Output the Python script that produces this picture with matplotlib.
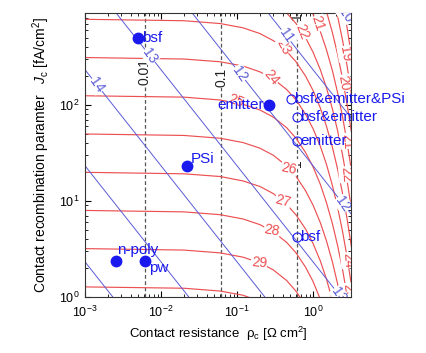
import matplotlib
matplotlib.use('Agg')
import matplotlib.pyplot as plt

plt.rcParams['font.family'] = ['Liberation Sans', 'DejaVu Sans']
plt.rcParams['mathtext.fontset'] = 'custom'
plt.rcParams['mathtext.rm'] = 'Liberation Sans'
plt.rcParams['mathtext.it'] = 'Liberation Sans:italic'

# --- efficiency contours (red): J0c read along a common rho_c grid ---
rho_grid = [0.001, 0.02, 0.06, 0.12, 0.2, 0.3, 0.45, 0.6, 0.8, 1.0,
            1.25, 1.5, 1.8, 2.1, 2.45, 2.8, 3.2]
eff_levels = [30, 29, 28, 27, 26, 25, 24, 23, 22, 21, 20, 19, 18]
eff_J = [
    [1.27, 1.23, 1.15, 1.04, 0.90, 0.76, 0.59, 0.46, 0.33, 0.23, 0.15, 0.099, 0.059, 0.035, 0.020, 0.011, 0.0054],
    [3.18, 3.07, 2.87, 2.59, 2.26, 1.91, 1.48, 1.14, 0.81, 0.58, 0.38, 0.25, 0.15, 0.089, 0.049, 0.027, 0.014],
    [7.94, 7.67, 7.17, 6.47, 5.65, 4.76, 3.69, 2.86, 2.03, 1.45, 0.94, 0.62, 0.37, 0.22, 0.12, 0.067, 0.034],
    [19.8, 19.1, 17.9, 16.1, 14.1, 11.9, 9.2, 7.1, 5.07, 3.60, 2.36, 1.54, 0.92, 0.55, 0.30, 0.17, 0.085],
    [49.6, 47.9, 44.8, 40.4, 35.3, 29.8, 23.1, 17.9, 12.7, 9.03, 5.90, 3.85, 2.31, 1.38, 0.76, 0.42, 0.21],
    [124, 120, 112, 101, 88.2, 74.4, 57.7, 44.6, 31.7, 22.6, 14.8, 9.62, 5.78, 3.46, 1.91, 1.05, 0.53],
    [310, 299, 280, 253, 220, 186, 144, 112, 79.4, 56.4, 36.9, 24.1, 14.4, 8.65, 4.77, 2.63, 1.33],
    [775, 749, 700, 632, 551, 465, 360, 279, 198, 141, 92.2, 60.1, 36.1, 21.6, 11.9, 6.56, 3.32],
    [1940, 1874, 1752, 1581, 1379, 1164, 902, 698, 497, 353, 231, 151, 90.4, 54.1, 29.9, 16.4, 8.30],
    [4840, 4675, 4371, 3945, 3441, 2904, 2251, 1742, 1239, 881, 576, 376, 226, 135, 74.5, 41.0, 20.7],
    [12100, 11690, 10930, 9860, 8600, 7260, 5630, 4360, 3100, 2200, 1440, 939, 564, 338, 186, 102, 51.8],
    [30300, 29270, 27360, 24690, 21540, 18180, 14090, 10910, 7760, 5510, 3610, 2350, 1410, 845, 467, 257, 130],
    [75700, 73130, 68360, 61700, 53820, 45420, 35200, 27250, 19380, 13780, 9010, 5870, 3530, 2110, 1170, 641, 324],
]
# red contour labels: text, rho_c, J0c, rotation
eff_lab_text = ['23', '24', '25', '26', '27', '28', '29', '22', '21', '19', '20', '22', '21', '24', '25']
eff_lab_rho = [0.403, 0.28, 0.097, 0.483, 0.403, 0.288, 0.195, 0.717, 1.16, 2.64, 2.56, 2.72, 2.8, 2.89, 2.89]
eff_lab_J = [400, 192, 110, 21.8, 9.98, 4.86, 2.28, 572, 700, 339, 170, 18.8, 42, 2.4, 1.15]
eff_lab_rot = [-62, -50, -20, -12, -15, -10, -6, -68, -72, -80, -80, -85, -85, -85, -85]

# --- blue straight contours: J0c at rho_c = 1e-3 and 3.2 ---
blue_rho = [0.001, 3.2]
blue_J = [
    [2.317e6, 724],
    [2.317e5, 72.4],
    [23170, 7.24],
    [2317, 0.724],
    [231.7, 0.0724],
    [23.17, 0.00724],
    [2.317, 0.000724],
]
blue_lab_text = ['14', '13', '12', '11', '10', '12', '13']
blue_lab_rho = [0.00144, 0.00716, 0.11, 0.441, 2.72, 2.48, 2.2]
blue_lab_J = [161, 324, 211, 525, 852, 9.3, 1.05]

# --- dashed vertical contours ---
dash_rho = [0.00616, 0.0616, 0.616]
dash_lab = ['0.01', '0.1', '1']
dash_lab_J = [221, 191, 24.9]

# --- measured points ---
fill_names = ['bsf', 'emitter', 'PSi', 'n-poly', 'pw']
fill_rho = [0.00502, 0.266, 0.0218, 0.00253, 0.00616]
fill_J = [495, 100, 23.2, 2.37, 2.37]
open_names = ['bsf&emitter&PSi', 'bsf&emitter', 'emitter', 'bsf']
open_rho = [0.514, 0.607, 0.607, 0.607]
open_J = [115.5, 74, 42.2, 4.22]

fig = plt.figure(figsize=(4.27, 3.53), dpi=100)
ax = fig.add_axes([0.199, 0.159, 0.623, 0.804])
ax.set_xscale('log')
ax.set_yscale('log')

red = '#ec5052'
blue_line = '#5a5ad6'
blue = '#1a1aee'

for J in eff_J:
    ax.plot(rho_grid, J, color=red, lw=0.85, zorder=2)
for J in blue_J:
    ax.plot(blue_rho, J, color=blue_line, lw=0.7, zorder=2)
for x in dash_rho:
    ax.axvline(x, color='#555555', lw=0.9, ls=(0, (3, 2)), zorder=1)

box = dict(facecolor='white', edgecolor='none', pad=0.3)
for t, x, y in zip(dash_lab, dash_rho, dash_lab_J):
    ax.text(x, y, t, rotation=90, ha='center', va='center', fontsize=10,
            color='#222222', bbox=box, zorder=1.5)
ax.text(0.616, 845, '1', rotation=90, ha='center', va='center', fontsize=10,
        color='#222222', zorder=1.5)
for t, x, y, r in zip(eff_lab_text, eff_lab_rho, eff_lab_J, eff_lab_rot):
    ax.text(x, y, t, rotation=r, ha='center', va='center', fontsize=10,
            color=red, bbox=box, zorder=3, clip_on=True)
for t, x, y in zip(blue_lab_text, blue_lab_rho, blue_lab_J):
    ax.text(x, y, t, rotation=-55, ha='center', va='center', fontsize=10,
            color=blue_line, bbox=box, zorder=3, clip_on=True)

ax.plot(fill_rho, fill_J, 'o', color=blue, ms=7.5, zorder=5, clip_on=False)
ax.plot(open_rho, open_J, 'o', mfc='none', mec=blue, mew=0.8, ms=6.5, zorder=5)

fill_off = [(3, 0), (-4, 0), (3, 5), (1, 8), (3, -5)]
fill_ha = ['left', 'right', 'left', 'left', 'left']
for n, x, y, o, h in zip(fill_names, fill_rho, fill_J, fill_off, fill_ha):
    ax.annotate(n, (x, y), xytext=o, textcoords='offset points', ha=h,
                va='center', fontsize=11, color=blue, zorder=6)
for n, x, y in zip(open_names, open_rho, open_J):
    ax.annotate(n, (x, y), xytext=(2.5, 0), textcoords='offset points',
                ha='left', va='center', fontsize=11, color=blue, zorder=6)

ax.set_xlim(1e-3, 3.16)
ax.set_ylim(1, 900)
ax.tick_params(which='both', direction='in', top=True, right=True, labelsize=9)
ax.tick_params(which='major', length=4)
ax.tick_params(which='minor', length=2)
ax.tick_params(axis='x', pad=6)
ax.tick_params(axis='y', pad=4)
for s in ax.spines.values():
    s.set_linewidth(0.8)
    s.set_color('#333333')

ax.set_xlabel('Contact resistance  ρ$_\\mathrm{c}$ [Ω cm$^2$]', fontsize=9.5, labelpad=3)
ax.set_ylabel('Contact recombination paramter   $J_\\mathrm{c}$ [fA/cm$^2$]', fontsize=10, labelpad=5)

fig.savefig('out.png', dpi=100)
